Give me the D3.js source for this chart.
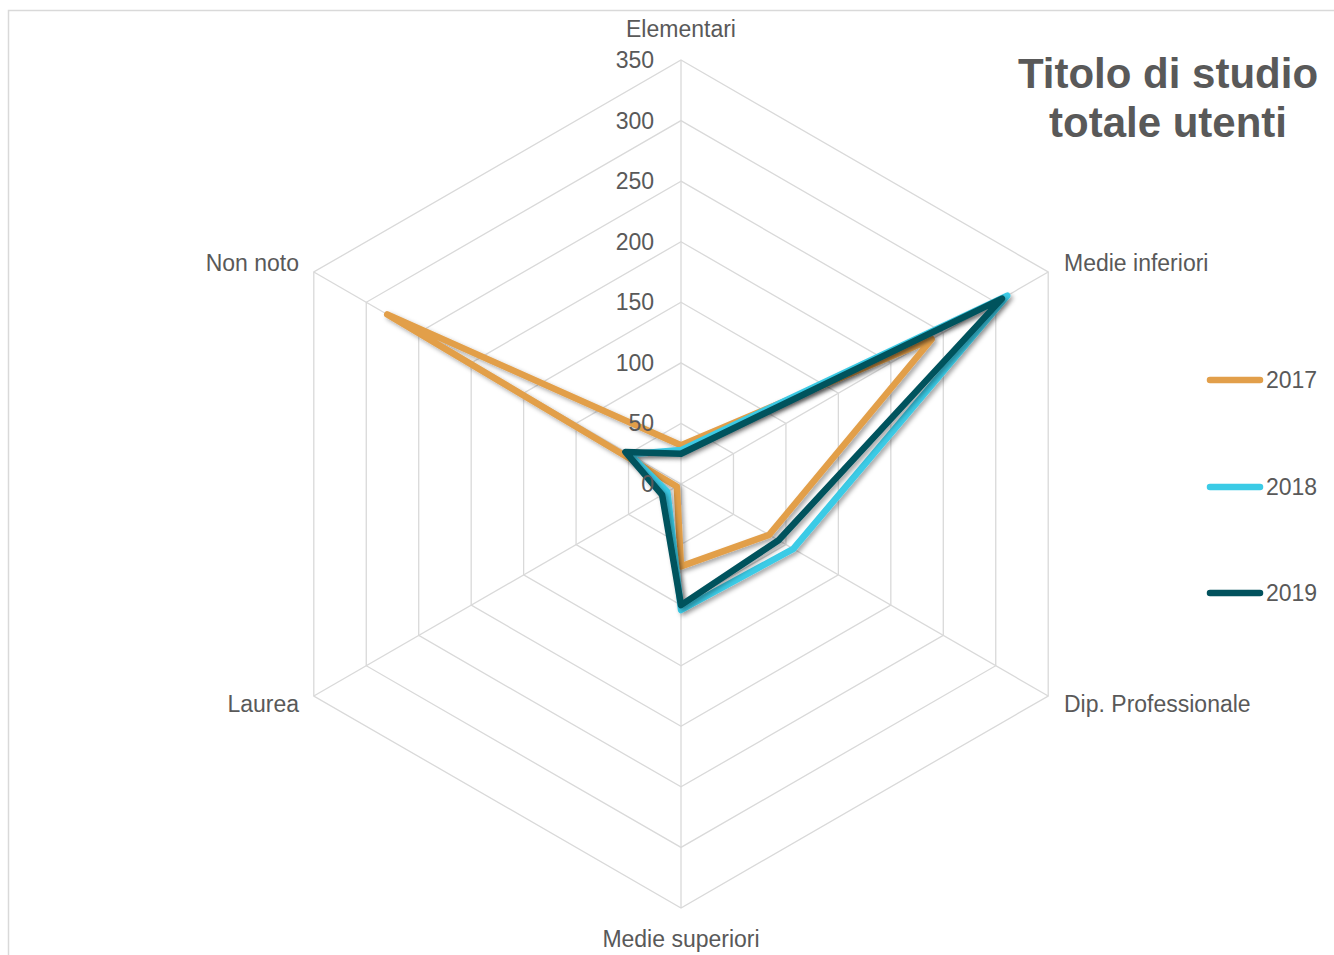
<!DOCTYPE html>
<html>
<head>
<meta charset="utf-8">
<script src="https://cdn.jsdelivr.net/npm/d3@7"></script>
<style>
  html, body { margin: 0; padding: 0; background: #fff; }
  svg { display: block; font-family: Arial, "Liberation Sans", sans-serif; }
</style>
</head>
<body>
<svg id="chart" width="1334" height="955"></svg>
<script>
// Categories around the radar, clockwise from the top
const categories = ["Elementari", "Medie inferiori", "Dip. Professionale", "Medie superiori", "Laurea", "Non noto"];
// Number of users per education level, by year
const values2017 = [32, 239, 84, 68, 4, 280];
const values2018 = [28, 311, 107, 104, 13, 49];
const values2019 = [25, 306, 93, 100, 18, 53];
const seriesNames = ["2017", "2018", "2019"];
const seriesColors = ["#E29F4A", "#3BCBE6", "#02525D"];
const tickValues = [0, 50, 100, 150, 200, 250, 300, 350];

const series = [values2017, values2018, values2019].map((v, i) => ({ name: seriesNames[i], color: seriesColors[i], values: v }));

const svg = d3.select("#chart");
const cx = 681, cy = 484, R = 424;
const textColor = "#595959";
const gridColor = "#D9D9D9";

// Chart area border
svg.append("rect").attr("x", 8.5).attr("y", 10.5).attr("width", 1340).attr("height", 960)
  .attr("fill", "none").attr("stroke", gridColor).attr("stroke-width", 1.5);

const r = d3.scaleLinear().domain([0, 350]).range([0, R]);
const angle = d3.scalePoint().domain(categories).range([0, 2 * Math.PI * (categories.length - 1) / categories.length]);

const g = svg.append("g").attr("transform", `translate(${cx},${cy})`);

const pt = (cat, v) => {
  const a = angle(cat);
  return [r(v) * Math.sin(a), -r(v) * Math.cos(a)];
};

// Hexagonal grid rings
const ring = d3.line().curve(d3.curveLinearClosed);
tickValues.filter(t => t > 0).forEach(t => {
  g.append("path").attr("d", ring(categories.map(c => pt(c, t))))
    .attr("fill", "none").attr("stroke", gridColor).attr("stroke-width", 1.3);
});
// Spokes
categories.forEach(c => {
  const [x, y] = pt(c, 350);
  g.append("line").attr("x1", 0).attr("y1", 0).attr("x2", x).attr("y2", y)
    .attr("stroke", gridColor).attr("stroke-width", 1.3);
});

// Drop shadow for the series lines
const defs = svg.append("defs");
const f = defs.append("filter").attr("id", "shadow").attr("x", "-20%").attr("y", "-20%").attr("width", "140%").attr("height", "140%");
f.append("feDropShadow").attr("dx", 2.5).attr("dy", 2.5).attr("stdDeviation", 2.2)
  .attr("flood-color", "#000").attr("flood-opacity", 0.35);

// Series polygons
series.forEach(s => {
  g.append("path")
    .attr("d", ring(categories.map((c, i) => pt(c, s.values[i]))))
    .attr("fill", "none").attr("stroke", s.color).attr("stroke-width", 6.5)
    .attr("stroke-linejoin", "round").attr("filter", "url(#shadow)");
});

// Radial axis tick labels
g.selectAll("text.tick").data(tickValues).join("text")
  .attr("class", "tick")
  .attr("x", -27).attr("y", d => -r(d)).attr("dy", "0.35em")
  .attr("text-anchor", "end").attr("font-size", 23).attr("fill", textColor)
  .text(d => d);

// Category labels
const labelPos = {
  "Elementari": { x: 681, y: 29, anchor: "middle" },
  "Medie inferiori": { x: 1064, y: 263, anchor: "start" },
  "Dip. Professionale": { x: 1064, y: 704, anchor: "start" },
  "Medie superiori": { x: 681, y: 939, anchor: "middle" },
  "Laurea": { x: 299, y: 704, anchor: "end" },
  "Non noto": { x: 299, y: 263, anchor: "end" }
};
categories.forEach(c => {
  const p = labelPos[c];
  svg.append("text").attr("x", p.x).attr("y", p.y).attr("dy", "0.35em")
    .attr("text-anchor", p.anchor).attr("font-size", 23).attr("fill", textColor).text(c);
});

// Title
const title = svg.append("text").attr("text-anchor", "middle").attr("font-size", 42)
  .attr("font-weight", "bold").attr("fill", textColor);
title.append("tspan").attr("x", 1168).attr("y", 88).text("Titolo di studio");
title.append("tspan").attr("x", 1168).attr("y", 137).text("totale utenti");

// Legend
const legendY = [380, 487, 593];
series.forEach((s, i) => {
  svg.append("line").attr("x1", 1210).attr("x2", 1260).attr("y1", legendY[i]).attr("y2", legendY[i])
    .attr("stroke", s.color).attr("stroke-width", 6.5).attr("stroke-linecap", "round");
  svg.append("text").attr("x", 1266).attr("y", legendY[i]).attr("dy", "0.35em")
    .attr("font-size", 23).attr("fill", textColor).text(s.name);
});
</script>
</body>
</html>
